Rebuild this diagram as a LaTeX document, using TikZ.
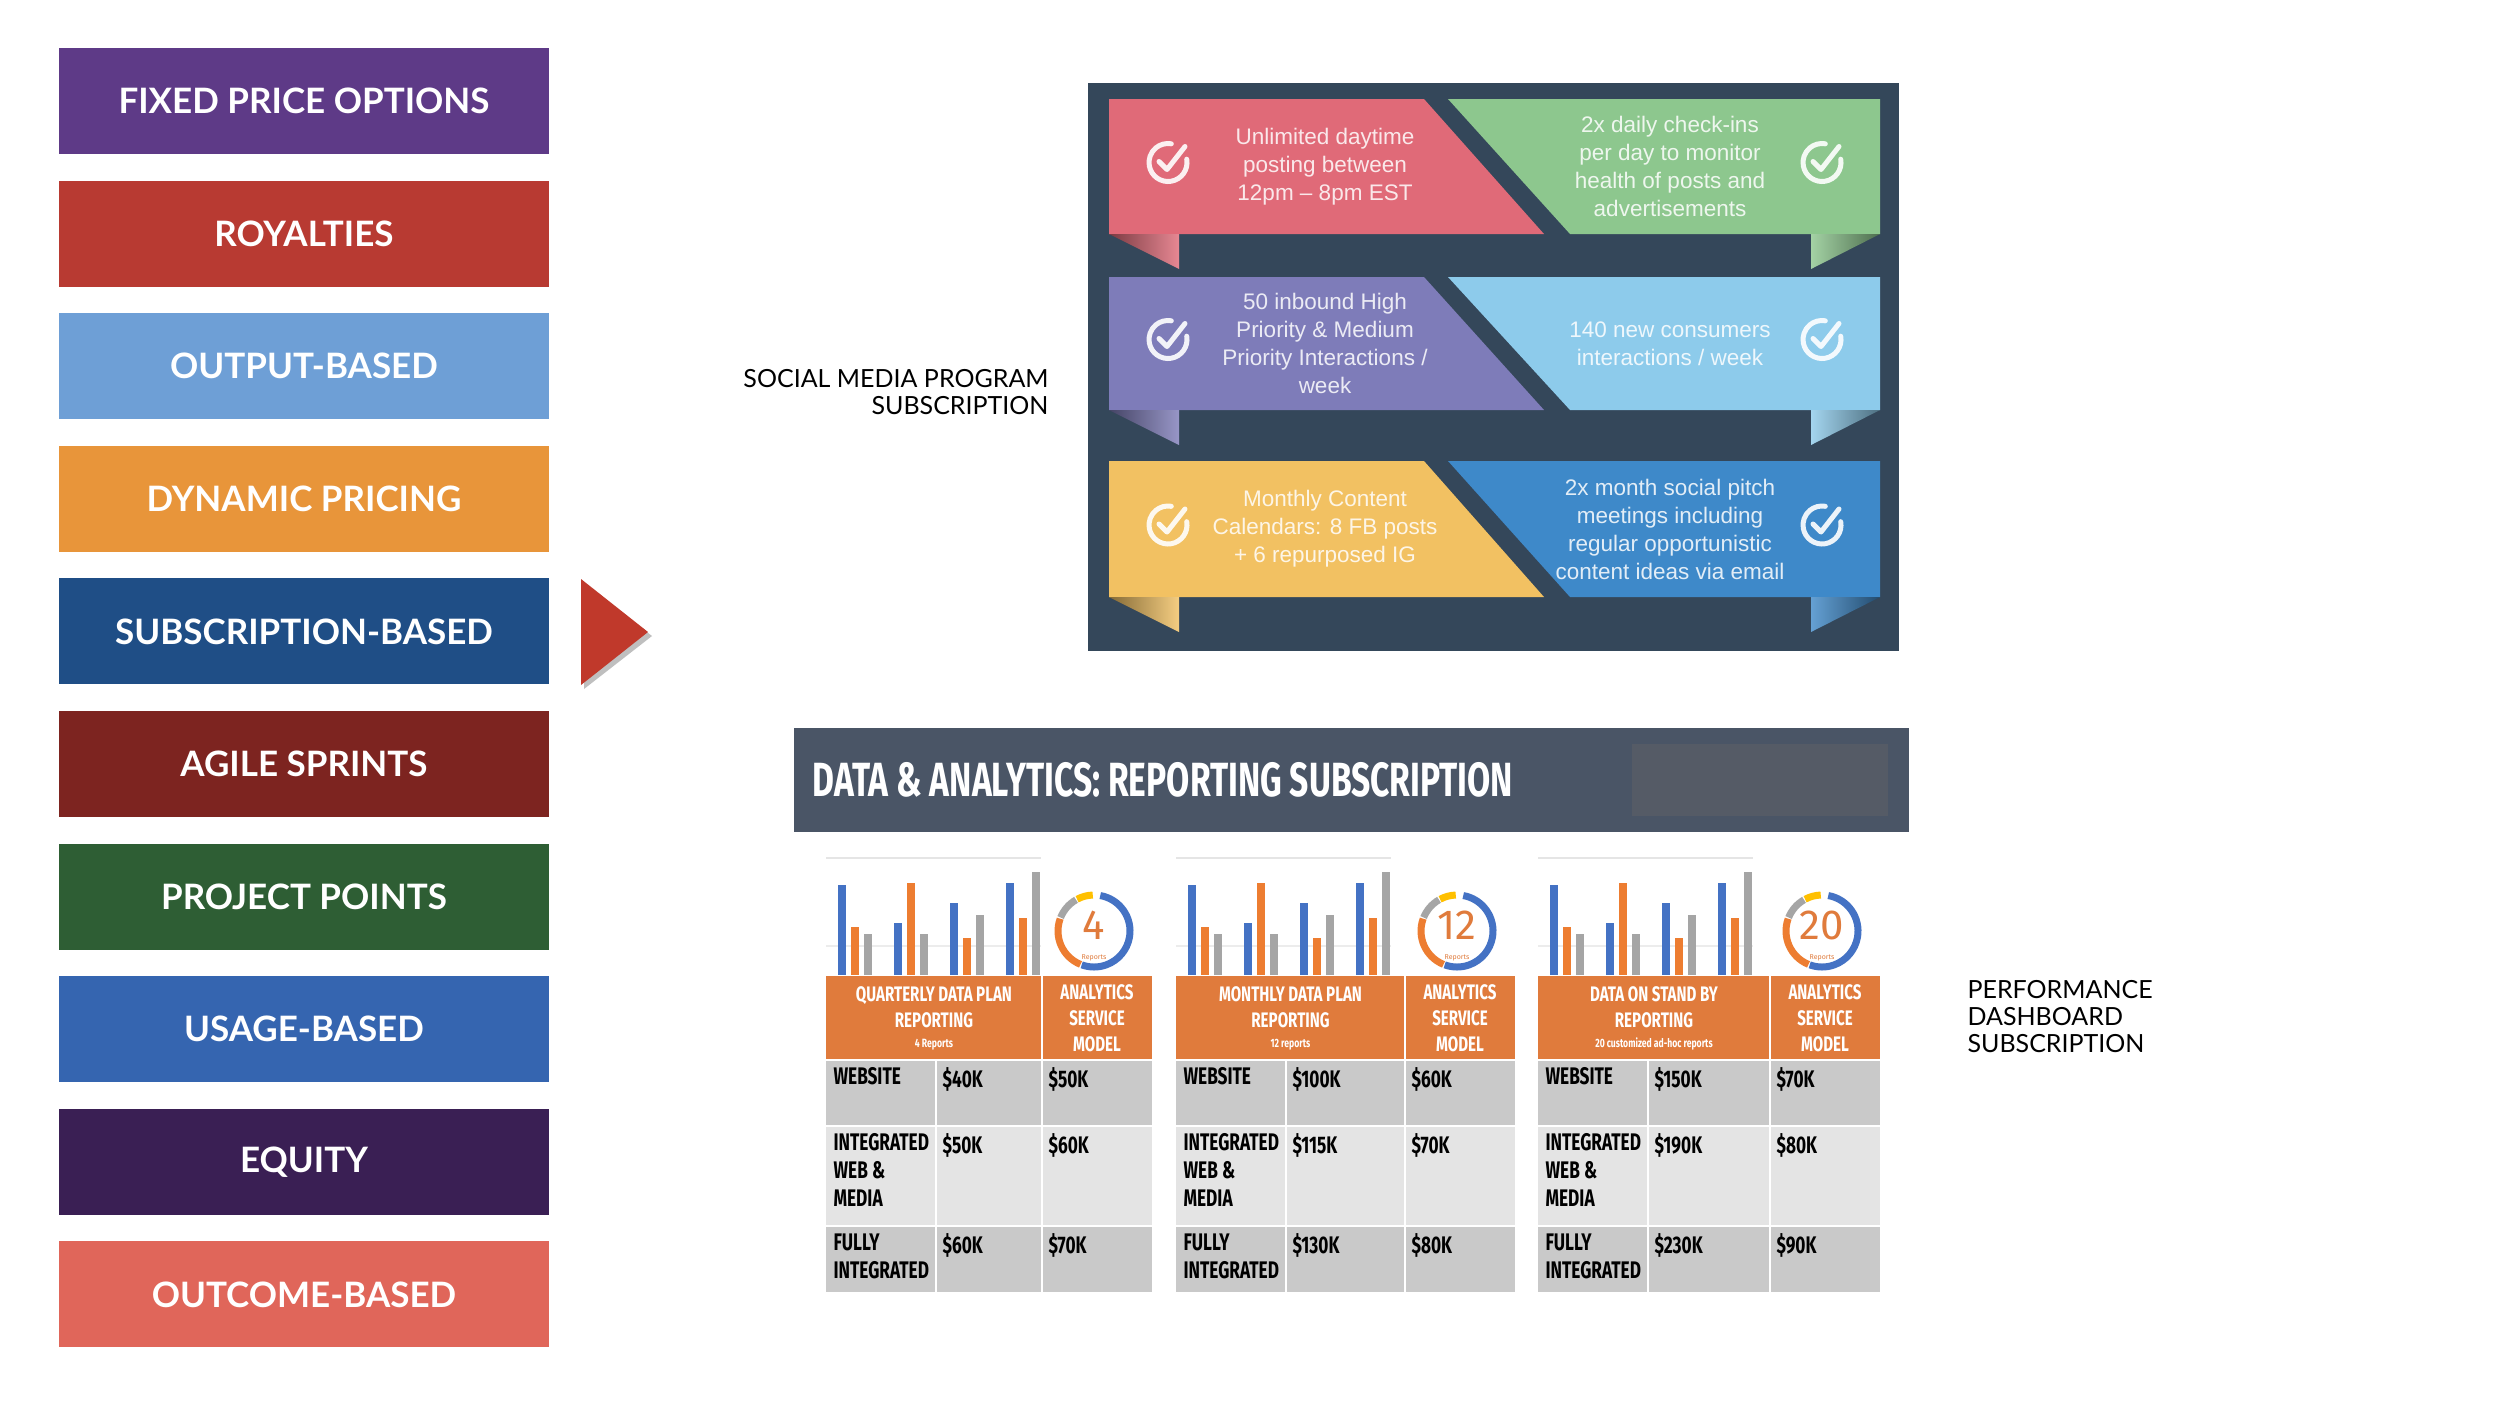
\documentclass[tikz,border=0pt]{standalone}
\usepackage{fontspec}
\setmainfont{Liberation Sans}
\newfontfamily\lato{Lato}
\newfontfamily\fira{Fira Sans}
\definecolor{cA}{HTML}{5E3A87}\definecolor{cB}{HTML}{B83A32}\definecolor{cC}{HTML}{6E9FD6}
\definecolor{cD}{HTML}{E8953A}\definecolor{cE}{HTML}{1F4E86}\definecolor{cF}{HTML}{7D2420}
\definecolor{cG}{HTML}{2E5E34}\definecolor{cH}{HTML}{3565B0}\definecolor{cI}{HTML}{3A1F54}
\definecolor{cJ}{HTML}{E0665A}\definecolor{arr}{HTML}{C0392B}
\definecolor{panel}{HTML}{34475A}
\definecolor{r1}{HTML}{E06A78}\definecolor{r2}{HTML}{8DC78E}\definecolor{r3}{HTML}{7E7CB9}
\definecolor{r4}{HTML}{8DCBEB}\definecolor{r5}{HTML}{F2C162}\definecolor{r6}{HTML}{3E89C9}
\definecolor{hdr}{HTML}{4A5566}\definecolor{hdrin}{HTML}{555B66}
\definecolor{org}{HTML}{E07B3C}\definecolor{gA}{HTML}{C9C9C9}\definecolor{gB}{HTML}{E4E4E4}
\definecolor{bb}{HTML}{4472C4}\definecolor{bo}{HTML}{ED7D31}\definecolor{bg}{HTML}{A5A5A5}\definecolor{by}{HTML}{FFC000}
\tikzset{
 lbox/.style={minimum width=490pt,minimum height=106pt,inner sep=0pt,text=white,font=\lato\bfseries\fontsize{35}{38}\selectfont},
 rtext/.style={text=white,opacity=.85,align=center,font=\fontsize{22.5}{28}\selectfont},
 cond/.style={xscale=.72,font=\fira\bfseries\fontsize{24}{28}\selectfont,align=left},
 chk/.pic={\draw[white,opacity=.9,line width=5pt,line cap=round] (-10:19) arc[start angle=-10,end angle=280,radius=19];
   \draw[white,opacity=.9,line width=5pt,line cap=round,line join=round] (-9,-1)--(-1,7)--(17,-16);},
}
\newcommand\rib[6]{%
 \fill[#3] (1109,#1)--(1424,#1)--(1544,#2)--(1109,#2)--cycle;
 \fill[#4] (1448,#1)--(1880,#1)--(1880,#2)--(1570,#2)--cycle;
 \shade[left color=#3!55!black,right color=#3!80!white] (1109,#2)--(1179,#2)--(1179,#2+35)--cycle;
 \shade[left color=#4!80!white,right color=#4!55!black] (1811,#2)--(1880,#2)--(1811,#2+35)--cycle;
 \pic at (1168,{(#1+#2)/2-4}) {chk};
 \pic at (1822,{(#1+#2)/2-4}) {chk};
 \node[rtext] at (1325,{(#1+#2)/2}) {#5};
 \node[rtext] at (1670,{(#1+#2)/2}) {#6};
}
\newcommand\dnum{4}
\newcommand\dw{330}
\newcommand\datatable[9]{%
\begin{scope}[xshift=#1]
 \foreach \yy in {946,980} \draw[gray!15,line width=1.5pt] (0,\yy)--(215,\yy);
 \draw[gray!20,line width=1.5pt] (0,858)--(215,858);
 \foreach \bx/\bh in {12/90,68/52,124/72,180/92} \fill[bb] (\bx,975) rectangle ++(8,-\bh);
 \foreach \bx/\bh in {25/48,81/92,137/37,193/57} \fill[bo] (\bx,975) rectangle ++(8,-\bh);
 \foreach \bx/\bh in {38/41,94/41,150/60,206/103} \fill[bg] (\bx,975) rectangle ++(8,-\bh);
 \begin{scope}[shift={(\dw-58,931)},line width=7pt]
  \draw[bb] (-80:36) arc[start angle=-80,end angle=110,radius=36];
  \draw[bo] (112:36) arc[start angle=112,end angle=200,radius=36];
  \draw[bg] (202:36) arc[start angle=202,end angle=240,radius=36];
  \draw[by] (242:36) arc[start angle=242,end angle=268,radius=36];
 \end{scope}
 \node[text=org,font=\fira\fontsize{42}{42}\selectfont] (num) at (\dw-58,925) {\dnum};
 \node[text=org,font=\fira\fontsize{7}{7}\selectfont] at (\dw-58,958) {Reports};
 \fill[org] (0,976) rectangle (\dw,1060);
 \fill[gA] (0,1060) rectangle (\dw,1126);
 \fill[gB] (0,1126) rectangle (\dw,1226);
 \fill[gA] (0,1226) rectangle (\dw,1292);
 \draw[white,line width=2pt] (\dw-110,976)--(\dw-110,1292) (110,1060)--(110,1292)
   (0,1060)--(\dw,1060) (0,1126)--(\dw,1126) (0,1226)--(\dw,1226);
 \node[cond,text=white,align=center,font=\fira\bfseries\fontsize{21}{26}\selectfont] at ({(\dw-110)/2},1018) {#2\\REPORTING\\[-6pt]{\fontsize{12}{12}\selectfont #3}};
 \node[cond,text=white,align=center,font=\fira\bfseries\fontsize{21}{26}\selectfont] at (\dw-55,1018) {ANALYTICS\\SERVICE\\MODEL};
 \node[cond,anchor=north west] at (5,1064) {WEBSITE};
 \node[cond,anchor=north west] at (5,1130) {INTEGRATED\\WEB \&\\MEDIA};
 \node[cond,anchor=north west] at (5,1230) {FULLY\\INTEGRATED};
 \node[cond,anchor=north west] at (114,1064) {#4};
 \node[cond,anchor=north west] at (\dw-106,1064) {#5};
 \node[cond,anchor=north west] at (114,1130) {#6};
 \node[cond,anchor=north west] at (\dw-106,1130) {#7};
 \node[cond,anchor=north west] at (114,1230) {#8};
 \node[cond,anchor=north west] at (\dw-106,1230) {#9};
\end{scope}}
\begin{document}
\begin{tikzpicture}[x=1pt,y=-1pt]
\useasboundingbox[fill=white] (0,0) rectangle (2500,1406);
\foreach \c/\t [count=\i from 0] in {cA/FIXED PRICE OPTIONS,cB/ROYALTIES,cC/OUTPUT-BASED,cD/DYNAMIC PRICING,cE/SUBSCRIPTION-BASED,cF/AGILE SPRINTS,cG/PROJECT POINTS,cH/USAGE-BASED,cI/EQUITY,cJ/OUTCOME-BASED}
  \node[lbox,fill=\c] (b\i) at (304,{101+132.6*\i}) {\t};
\fill[black!25] (584,583)--(652,636)--(584,689)--cycle;
\fill[arr] (581,579)--(648,632)--(581,685)--cycle;
\node[font=\lato\fontsize{25}{27}\selectfont,align=right,anchor=east] (sm) at (1052,392) {SOCIAL MEDIA PROGRAM\\SUBSCRIPTION};
\fill[panel] (1088,83) rectangle (1899,651);
\rib{99}{234}{r1}{r2}{Unlimited daytime\\posting between\\12pm -- 8pm EST}{2x daily check-ins\\per day to monitor\\health of posts and\\advertisements}
\rib{277}{410}{r3}{r4}{50 inbound High\\Priority \& Medium\\Priority Interactions /\\week}{140 new consumers\\interactions / week}
\rib{461}{597}{r5}{r6}{Monthly Content\\Calendars: 8 FB posts\\+ 6 repurposed IG}{2x month social pitch\\meetings including\\regular opportunistic\\content ideas via email}
\fill[hdr] (794,728) rectangle (1909,832);
\fill[hdrin] (1632,744) rectangle (1888,816);
\node[anchor=west,text=white,xscale=.7,font=\fira\bfseries\fontsize{48}{48}\selectfont] (dt) at (810,780) {DATA \& ANALYTICS: REPORTING SUBSCRIPTION};
\renewcommand\dnum{4}\renewcommand\dw{326}
\datatable{826}{QUARTERLY DATA PLAN}{4 Reports}{\$40K}{\$50K}{\$50K}{\$60K}{\$60K}{\$70K}
\renewcommand\dnum{12}\renewcommand\dw{339}
\datatable{1176}{MONTHLY DATA PLAN}{12 reports}{\$100K}{\$60K}{\$115K}{\$70K}{\$130K}{\$80K}
\renewcommand\dnum{20}\renewcommand\dw{342}
\datatable{1538}{DATA ON STAND BY}{20 customized ad-hoc reports}{\$150K}{\$70K}{\$190K}{\$80K}{\$230K}{\$90K}
\node[font=\lato\fontsize{25}{27}\selectfont,align=left,anchor=west] (pd) at (1964,1017) {PERFORMANCE\\DASHBOARD\\SUBSCRIPTION};
\end{tikzpicture}
\end{document}
